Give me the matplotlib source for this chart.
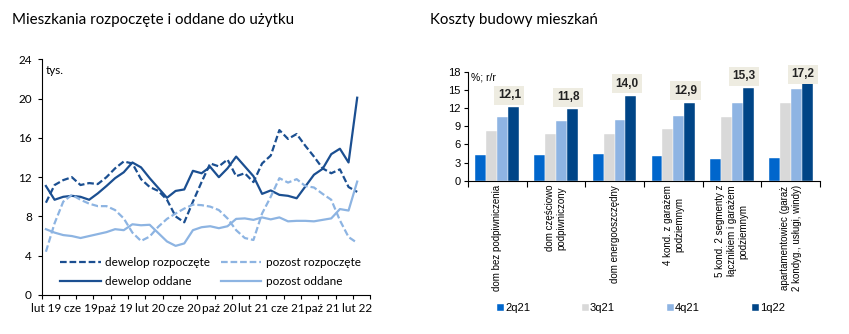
import matplotlib.pyplot as plt
import numpy as np

# left chart: dwellings started / completed, thousands, monthly lut 19 .. lut 22
months = ['lut 19', 'mar 19', 'kwi 19', 'maj 19', 'cze 19', 'lip 19', 'sie 19', 'wrz 19',
          'paź 19', 'lis 19', 'gru 19', 'sty 20', 'lut 20', 'mar 20', 'kwi 20', 'maj 20',
          'cze 20', 'lip 20', 'sie 20', 'wrz 20', 'paź 20', 'lis 20', 'gru 20', 'sty 21',
          'lut 21', 'mar 21', 'kwi 21', 'maj 21', 'cze 21', 'lip 21', 'sie 21', 'wrz 21',
          'paź 21', 'lis 21', 'gru 21', 'sty 22', 'lut 22']
dew_rozp = [9.4, 11.2, 11.7, 12.0, 11.2, 11.4, 11.3, 12.0, 12.9, 13.6, 13.4, 11.8, 11.0,
            10.6, 9.7, 8.0, 7.4, 9.5, 11.5, 13.4, 13.1, 13.8, 12.1, 12.4, 11.5, 13.4, 14.2,
            16.8, 15.9, 16.4, 15.2, 14.1, 12.9, 12.4, 12.8, 11.0, 10.5]
dew_odd = [11.1, 9.7, 10.0, 10.1, 10.0, 9.7, 10.35, 11.1, 11.9, 12.5, 13.5, 13.0, 11.9,
           10.9, 9.9, 10.6, 10.75, 12.65, 12.4, 13.05, 12.0, 12.9, 14.1, 13.1, 12.1, 10.3,
           10.65, 10.2, 10.1, 9.85, 11.05, 12.25, 12.85, 14.35, 14.9, 13.5, 20.1]
poz_rozp = [4.4, 7.3, 9.5, 10.2, 9.7, 9.3, 9.05, 9.05, 8.65, 7.8, 6.35, 5.5, 5.95, 6.95,
            7.75, 8.3, 8.8, 9.2, 9.15, 9.0, 8.65, 7.8, 6.6, 5.8, 5.6, 8.3, 10.0, 11.9,
            11.45, 11.8, 11.1, 10.95, 10.3, 9.7, 7.6, 5.9, 5.3]
poz_odd = [6.7, 6.35, 6.1, 6.0, 5.8, 6.0, 6.2, 6.4, 6.7, 6.6, 7.2, 7.1, 7.15, 6.3, 5.45,
           5.0, 5.25, 6.6, 6.9, 7.0, 6.8, 7.0, 7.75, 7.8, 7.65, 7.9, 7.7, 7.9, 7.5, 7.55,
           7.55, 7.5, 7.65, 7.8, 8.75, 8.6, 11.55]

# right chart: construction costs, % y/y
building = ['dom bez podpiwniczenia', 'dom częściowo\npodpiwniczony', 'dom energooszczędny',
            '4 kond. z garażem\npodziemnym', '5 kond. 2 segmenty z\nłącznikiem i garażem\npodziemnym',
            'apartamentowiec (garaż\n2 kondyg., usługi, windy)']
quarters = ['2q21', '3q21', '4q21', '1q22']
q2_21 = [4.25, 4.2, 4.35, 4.1, 3.6, 3.7]
q3_21 = [8.2, 7.75, 7.7, 8.5, 10.5, 12.8]
q4_21 = [10.5, 9.95, 10.1, 10.7, 12.9, 15.2]
q1_22 = [12.1, 11.8, 14.0, 12.9, 15.3, 17.2]

DARK = '#1b4f91'
LIGHT = '#8db4e2'
FONT = 'Lato'

fig = plt.figure(figsize=(8.49, 3.34), dpi=100)

fig.text(0.014, 0.94, 'Mieszkania rozpoczęte i oddane do użytku', fontsize=10.9,
         family=FONT, va='center', ha='left')
fig.text(0.506, 0.94, 'Koszty budowy mieszkań', fontsize=10.9, family=FONT,
         va='center', ha='left')

# ---- line chart
ax1 = fig.add_axes([0.049, 0.117, 0.387, 0.705])
x = np.arange(len(months))
ax1.plot(x, dew_rozp, color=DARK, lw=1.6, ls=(0, (3, 1.3)), label='dewelop rozpoczęte')
ax1.plot(x, dew_odd, color=DARK, lw=1.6, label='dewelop oddane')
ax1.plot(x, poz_rozp, color=LIGHT, lw=1.6, ls=(0, (3, 1.3)), label='pozost rozpoczęte')
ax1.plot(x, poz_odd, color=LIGHT, lw=1.6, label='pozost oddane')
ax1.set_ylim(0, 24)
ax1.set_xlim(-0.4, 37.5)
ax1.set_yticks(range(0, 25, 4))
ax1.set_xticks(np.arange(-0.5, 38, 2))
ax1.set_xticklabels([])
ax1.set_xticks(x[::4], minor=True)
ax1.set_xticklabels(months[::4], minor=True)
ax1.tick_params(axis='x', which='major', length=3, direction='out', width=0.8)
ax1.tick_params(axis='x', which='minor', length=0, pad=6, labelsize=8.5)
ax1.tick_params(axis='y', length=3, width=0.8, labelsize=8.5, pad=4)
for lab in ax1.get_xticklabels(minor=True) + ax1.get_yticklabels():
    lab.set_family(FONT)
for s in ['top', 'right']:
    ax1.spines[s].set_visible(False)
ax1.text(0.012, 0.94, 'tys.', transform=ax1.transAxes, fontsize=8.5, family=FONT)
h, l = ax1.get_legend_handles_labels()
leg = ax1.legend(h, l, ncol=2, loc='lower left', bbox_to_anchor=(0.025, -0.012), frameon=False,
                 handlelength=3.4, columnspacing=0.9, handletextpad=0.4, labelspacing=0.65,
                 prop={'family': FONT, 'size': 8.5})

# ---- bar chart
ax2 = fig.add_axes([0.551, 0.459, 0.415, 0.326])
xb = np.arange(len(building))
w = 0.185
cols = ['#0066cc', '#d9d9d9', '#8eb4e3', '#004587']
series = [q2_21, q3_21, q4_21, q1_22]
for k, (vals, c, q) in enumerate(zip(series, cols, quarters)):
    ax2.bar(xb + (k - 1.5) * w, vals, w, color=c, label=q, edgecolor='white', linewidth=0.3)
for xi, v in zip(xb, q1_22):
    ax2.text(xi + 1.5 * w - 0.07, min(v + 2.0, 17.6), f'{v:.1f}'.replace('.', ','),
             ha='center', va='center', fontsize=8.5, fontweight='bold', family='Liberation Sans',
             color='#222222',
             bbox=dict(boxstyle='square,pad=0.3', fc='#eeece1', ec='none'))
ax2.set_ylim(0, 18)
ax2.set_xlim(-0.5, 5.5)
ax2.set_yticks(range(0, 19, 3))
ax2.set_xticks(np.arange(-0.5, 6, 1))
ax2.set_xticklabels([])
ax2.set_xticks(xb, minor=True)
ax2.set_xticklabels(building, minor=True, rotation=90, multialignment='center',
                    family='Liberation Sans', fontsize=7)
ax2.tick_params(axis='x', which='major', length=4, width=0.8)
ax2.tick_params(axis='x', which='minor', length=0, pad=3)
ax2.tick_params(axis='y', length=3, width=0.8, labelsize=8, pad=2)
for lab in ax2.get_yticklabels():
    lab.set_family('Liberation Sans')
for s in ['top', 'right']:
    ax2.spines[s].set_visible(False)
ax2.text(0.01, 0.92, '%; r/r', transform=ax2.transAxes, fontsize=7.5, family='Liberation Sans')
fig.legend(*ax2.get_legend_handles_labels(), ncol=4, loc='center',
           bbox_to_anchor=(0.755, 0.078), frameon=False, handlelength=0.6, handleheight=0.6,
           handletextpad=0.1, columnspacing=4.7, prop={'family': 'Liberation Sans', 'size': 8})

fig.savefig('out.png', dpi=100)
